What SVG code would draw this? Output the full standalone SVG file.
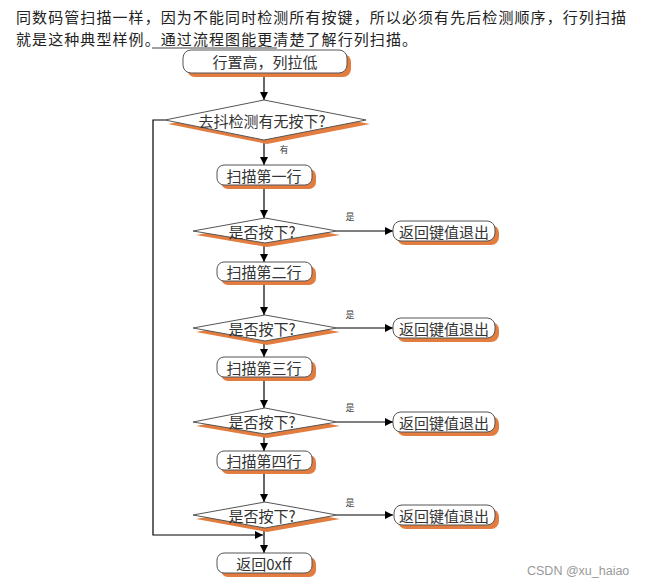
<svg xmlns="http://www.w3.org/2000/svg" width="647" height="585" viewBox="0 0 647 585">
<defs>
<marker id="ah" viewBox="0 0 10 10" refX="10" refY="5" markerWidth="8" markerHeight="8" markerUnits="userSpaceOnUse" orient="auto"><path d="M0,0 L10,5 L0,10 z" fill="#000"/></marker>
<style>
.t{font-family:"Noto Sans CJK SC","Liberation Serif",serif;fill:#333;font-size:15px;text-anchor:middle;dominant-baseline:central}
.desc{font-family:"Noto Sans CJK SC",sans-serif;fill:#222;font-size:15px}
.box{fill:#fff;stroke:#555;stroke-width:1}
.sh{fill:#E37D3F;stroke:none}
.c{stroke:#000;stroke-width:1.2;fill:none}
.lbl{font-family:"Noto Sans CJK SC",serif;fill:#444;font-size:9px;text-anchor:middle}
</style>
</defs>
<rect width="647" height="585" fill="#fff"/>
<text class="desc" x="16" y="22.5" textLength="610" lengthAdjust="spacing">同数码管扫描一样，因为不能同时检测所有按键，所以必须有先后检测顺序，行列扫描</text>
<text class="desc" x="16" y="44.5" textLength="401" lengthAdjust="spacing">就是这种典型样例。通过流程图能更清楚了解行列扫描。</text>
<line x1="152" y1="48" x2="277" y2="48" stroke="#444" stroke-width="1"/>

<g id="connectors">
<path class="c" d="M264,74 V100" marker-end="url(#ah)"/>
<path class="c" d="M264,140 V165" marker-end="url(#ah)"/>
<path class="c" d="M264,185 V218" marker-end="url(#ah)"/>
<path class="c" d="M264,243 V262" marker-end="url(#ah)"/>
<path class="c" d="M264,281 V315" marker-end="url(#ah)"/>
<path class="c" d="M264,341 V357" marker-end="url(#ah)"/>
<path class="c" d="M264,377 V408" marker-end="url(#ah)"/>
<path class="c" d="M264,434 V451" marker-end="url(#ah)"/>
<path class="c" d="M264,470 V502" marker-end="url(#ah)"/>
<path class="c" d="M264,528 V553" marker-end="url(#ah)"/>
<path class="c" d="M165,120 H153 V535 H263" marker-end="url(#ah)"/>
<path class="c" d="M337,231 H393" marker-end="url(#ah)"/>
<path class="c" d="M337,328 H393" marker-end="url(#ah)"/>
<path class="c" d="M337,422 H393" marker-end="url(#ah)"/>
<path class="c" d="M337,515 H393" marker-end="url(#ah)"/>
<text class="lbl" x="284" y="153">有</text>
<text class="lbl" x="350" y="220">是</text>
<text class="lbl" x="350" y="318">是</text>
<text class="lbl" x="350" y="411">是</text>
<text class="lbl" x="350" y="506">是</text>
</g>

<g id="start">
<rect class="sh" x="187" y="54" width="164" height="23" rx="8"/>
<rect class="box" x="183" y="50" width="164" height="23" rx="8"/>
<text class="t" x="265" y="61.5" font-size="16">行置高，列拉低</text>
</g>

<g id="debounce">
<polygon class="sh" points="267,104 370,124 267,144 168,124"/>
<polygon class="box" points="264,100 366,120 264,140 165,120"/>
<text class="t" x="262" y="120" font-size="15.5">去抖检测有无按下?</text>
</g>

<g id="scan1">
<rect class="sh" x="221" y="169" width="95" height="20" rx="7"/>
<rect class="box" x="217" y="165" width="95" height="20" rx="7"/>
<text class="t" x="264" y="175">扫描第一行</text>
</g>
<g id="check1">
<polygon class="sh" points="267,222 340,235 267,247 196,235"/>
<polygon class="box" points="265,218 337,231 265,243 193,231"/>
<text class="t" x="262" y="231">是否按下?</text>
</g>
<g id="exit1">
<rect class="sh" x="397" y="225" width="102" height="20" rx="8"/>
<rect class="box" x="393" y="221" width="102" height="20" rx="8"/>
<text class="t" x="444" y="231">返回键值退出</text>
</g>

<g id="scan2">
<rect class="sh" x="221" y="266" width="95" height="19" rx="7"/>
<rect class="box" x="217" y="262" width="95" height="19" rx="7"/>
<text class="t" x="264" y="271.5">扫描第二行</text>
</g>
<g id="check2">
<polygon class="sh" points="267,319 340,332 267,345 196,332"/>
<polygon class="box" points="265,315 337,328 265,341 193,328"/>
<text class="t" x="262" y="328">是否按下?</text>
</g>
<g id="exit2">
<rect class="sh" x="397" y="322" width="102" height="20" rx="8"/>
<rect class="box" x="393" y="318" width="102" height="20" rx="8"/>
<text class="t" x="444" y="328">返回键值退出</text>
</g>

<g id="scan3">
<rect class="sh" x="221" y="361" width="95" height="20" rx="7"/>
<rect class="box" x="217" y="357" width="95" height="20" rx="7"/>
<text class="t" x="264" y="367">扫描第三行</text>
</g>
<g id="check3">
<polygon class="sh" points="267,412 340,426 267,438 196,426"/>
<polygon class="box" points="265,408 337,422 265,434 193,422"/>
<text class="t" x="262" y="421">是否按下?</text>
</g>
<g id="exit3">
<rect class="sh" x="397" y="416" width="102" height="20" rx="8"/>
<rect class="box" x="393" y="412" width="102" height="20" rx="8"/>
<text class="t" x="444" y="422">返回键值退出</text>
</g>

<g id="scan4">
<rect class="sh" x="221" y="455" width="95" height="19" rx="7"/>
<rect class="box" x="217" y="451" width="95" height="19" rx="7"/>
<text class="t" x="264" y="460.5">扫描第四行</text>
</g>
<g id="check4">
<polygon class="sh" points="267,506 340,519 267,532 196,519"/>
<polygon class="box" points="265,502 337,515 265,528 193,515"/>
<text class="t" x="262" y="515">是否按下?</text>
</g>
<g id="exit4">
<rect class="sh" x="398" y="509" width="101" height="20" rx="8"/>
<rect class="box" x="394" y="505" width="101" height="20" rx="8"/>
<text class="t" x="444" y="515">返回键值退出</text>
</g>

<g id="end">
<rect class="sh" x="221" y="557" width="95" height="20" rx="7"/>
<rect class="box" x="217" y="553" width="95" height="20" rx="7"/>
<text class="t" x="264" y="563">返回0xff</text>
</g>

<text x="527" y="575" font-family="Liberation Sans, sans-serif" font-size="12.5" fill="#999">CSDN @xu_haiao</text>
</svg>
